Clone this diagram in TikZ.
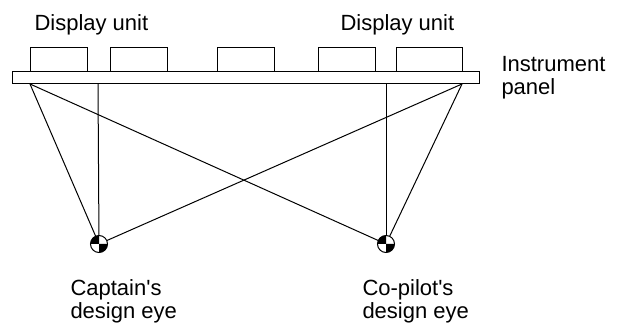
\documentclass[tikz,border=0pt]{standalone}
\usepackage{fontspec}
\setmainfont{Liberation Sans}
\begin{document}
\begin{tikzpicture}[x=1pt,y=-1pt,line width=1pt,
  box/.style={draw,fill=white,inner sep=0pt,outer sep=0pt,anchor=north west},
  label/.style={inner sep=0pt,anchor=base west,font=\fontsize{22}{23}\selectfont},
  sight/.style={line width=1pt},
  designeye/.pic={
    \fill[white] (0,0) circle (8.5pt);
    \fill (0,0) -- (-8.5pt,0) arc[start angle=180,end angle=90,radius=8.5pt] -- cycle;
    \fill (0,0) -- (8.5pt,0) arc[start angle=0,end angle=-90,radius=8.5pt] -- cycle;
    \draw (0,0) circle (8.5pt);
  }]
\useasboundingbox (0,0) rectangle (621,328);

% instrument panel and display units
\node[box,minimum width=467pt,minimum height=12pt] (panel) at (12,72) {};
\node[box,minimum width=57pt,minimum height=24pt,anchor=south west] (du1) at (30,72) {};
\node[box,minimum width=57pt,minimum height=24pt,anchor=south west] (du2) at (110,72) {};
\node[box,minimum width=57pt,minimum height=24pt,anchor=south west] (du3) at (217,72) {};
\node[box,minimum width=57pt,minimum height=24pt,anchor=south west] (du4) at (318,72) {};
\node[box,minimum width=66pt,minimum height=24pt,anchor=south west] (du5) at (396,72) {};

% sight-line end points on the panel's lower edge
\coordinate (pL) at (30,84);
\coordinate (pC) at (98,84);
\coordinate (pP) at (386,84);
\coordinate (pR) at (462,84);

% design eye positions
\coordinate (cap) at (99,244);
\coordinate (cop) at (386,244);

% sight lines
\draw[sight] (pL) -- (cap);
\draw[sight] (pC) -- (cap);
\draw[sight] (pR) -- (cap);
\draw[sight] (pL) -- (cop);
\draw[sight] (pP) -- (cop);
\draw[sight] (pR) -- (cop);

% eye symbols
\pic at (cap) {designeye};
\pic at (cop) {designeye};

% labels
\node[label] (t1) at (34,31) {Display unit};
\node[label] (t2) at (340,31) {Display unit};
\node[label] (t3) at (501,72) {Instrument};
\node[label] (t4) at (501,95) {panel};
\node[label] (t5) at (70,296) {Captain\textquotesingle s};
\node[label] (t6) at (70,319) {design eye};
\node[label] (t7) at (362,296) {Co-pilot\textquotesingle s};
\node[label] (t8) at (362,319) {design eye};
\end{tikzpicture}
\end{document}
